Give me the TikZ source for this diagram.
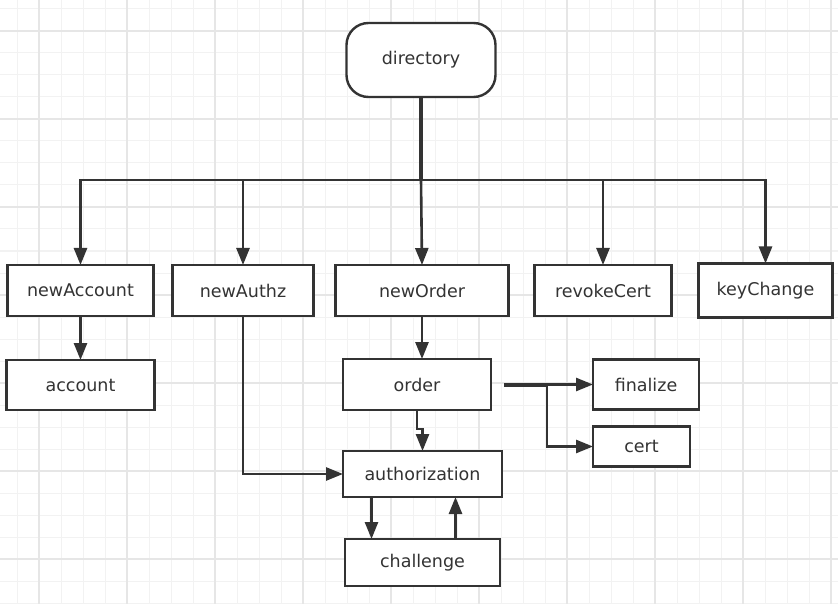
\documentclass[tikz,border=0pt]{standalone}
\usepackage{fontspec}
\usetikzlibrary{positioning, arrows.meta, calc}
\newfontfamily\boxfont{DejaVu Sans}
\definecolor{clrline}{HTML}{333333}
\definecolor{clrtext}{HTML}{333333}
\definecolor{clrgrid_minor}{HTML}{F2F2F2}
\definecolor{clrgrid_major}{HTML}{E6E6E6}

\begin{document}
\begin{tikzpicture}[
    x=1pt, y=-1pt,
    >={Triangle[length=17pt, width=13pt]},
    box/.style={draw=clrline, line width=2.4pt, fill=white, inner sep=0pt,
                outer sep=0pt, minimum height=51pt, text=clrtext,
                font=\boxfont\fontsize{17.5}{20}\selectfont},
    arrow/.style={->, color=clrline, line width=2.6pt},
    trunk/.style={color=clrline, line width=4pt},
    gridminor/.style={color=clrgrid_minor, line width=1pt},
    gridmajor/.style={color=clrgrid_major, line width=1.6pt},
]
% background grid
\fill[white] (0,0) rectangle (838,604);
\useasboundingbox (0,0) rectangle (838,604);
\foreach \i in {0,...,37} \draw[gridminor] ({17+22*\i},0) -- ++(0,604);
\foreach \i in {0,...,27} \draw[gridminor] (0,{9+22*\i}) -- ++(838,0);
\foreach \i in {0,...,9} \draw[gridmajor] ({39+88*\i},0) -- ++(0,604);
\foreach \i in {0,...,6} \draw[gridmajor] (0,{31+88*\i}) -- ++(838,0);

% endpoints row
\node[box, minimum width=173pt] (newOrder) at (422,290.5) {newOrder};
\node[box, minimum width=141pt, left=22pt of newOrder] (newAuthz) {newAuthz};
\node[box, minimum width=146pt, left=19pt of newAuthz] (newAccount) {newAccount};
\node[box, minimum width=137pt, right=26pt of newOrder] (revokeCert) {revokeCert};
\node[box, minimum width=134pt, minimum height=54pt, right=27pt of revokeCert] (keyChange) {keyChange};
\node[box, minimum width=149pt, minimum height=74pt, rounded corners=22pt,
      above=168pt of newOrder, xshift=-1pt] (directory) {directory};

% resources
\node[box, minimum width=148pt, minimum height=50pt, below=44pt of newAccount] (account) {account};
\node[box, minimum width=148pt, minimum height=51pt, below=43pt of newOrder, xshift=-5pt] (order) {order};
\node[box, minimum width=159pt, minimum height=46pt, below=41pt of order, xshift=5.5pt] (authorization) {authorization};
\node[box, minimum width=155pt, minimum height=47pt, below=42pt of authorization] (challenge) {challenge};
\node[box, minimum width=106pt, minimum height=50pt, right=102pt of order] (finalize) {finalize};
\node[box, minimum width=97pt, minimum height=40pt, below=17pt of finalize.south west, anchor=north west] (cert) {cert};

\coordinate (bus) at ([yshift=-83pt]directory.south);
\coordinate (order_out) at ([xshift=13pt]order.east);
\coordinate (split) at ([xshift=56pt]order.east);
\coordinate (auth_down) at ([xshift=-51pt]authorization.south);
\coordinate (auth_up) at ([xshift=33pt]authorization.south);

\draw[trunk] (directory.south) -- (bus);
\draw[arrow] (bus) -| (newAccount.north);
\draw[arrow] (bus) -| (newAuthz.north);
\draw[arrow] (bus) -- (newOrder.north);
\draw[arrow] (bus) -| (revokeCert.north);
\draw[arrow] (bus) -| (keyChange.north);
\draw[arrow] (newAccount.south) -- (account.north);
\draw[arrow] (newOrder.south) -- (newOrder.south |- order.north);
\draw[arrow] (newAuthz.south) |- (authorization.west);
\draw[arrow] (order.south) -- ++(0,19) -| (authorization.north);
\draw[arrow] (auth_down) -- (auth_down |- challenge.north);
\draw[arrow] (auth_up |- challenge.north) -- (auth_up);
\draw[trunk] (order_out) -- (split);
\draw[arrow] (order_out) -- (finalize.west);
\draw[arrow] (split) |- (cert.west);
\end{tikzpicture}
\end{document}
